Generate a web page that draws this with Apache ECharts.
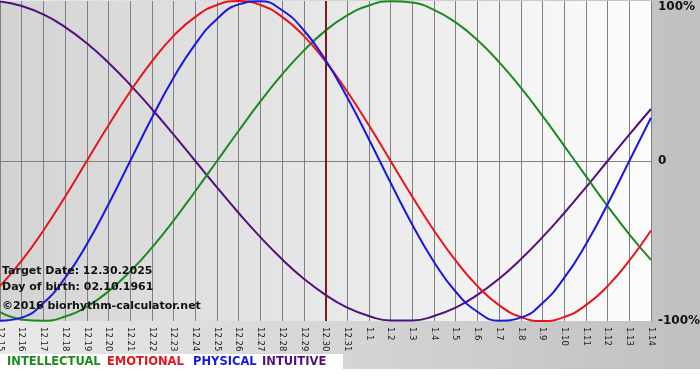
<!DOCTYPE html>
<html>
<head>
<meta charset="utf-8">
<script src="https://cdn.jsdelivr.net/npm/echarts@6/dist/echarts.min.js"></script>
<style>
html,body{margin:0;padding:0;background:#fff;}
#c{width:700px;height:380px;}
</style>
</head>
<body>
<div id="c"></div>
<script>
const dates = ['12.15','12.16','12.17','12.18','12.19','12.20','12.21','12.22','12.23','12.24','12.25','12.26','12.27','12.28','12.29','12.30','12.31','1.1','1.2','1.3','1.4','1.5','1.6','1.7','1.8','1.9','1.10','1.11','1.12','1.13','1.14'];
const intellectual = [-94.5,-99.0,-99.9,-97.2,-91.0,-81.5,-69.0,-54.1,-37.2,-18.9,0,18.9,37.2,54.1,69.0,81.5,91.0,97.2,99.9,99.0,94.5,86.6,75.6,61.8,45.8,28.2,9.5,-9.5,-28.2,-45.8,-61.8];
const emotional = [-78.2,-62.3,-43.4,-22.3,0,22.3,43.4,62.3,78.2,90.1,97.5,100,97.5,90.1,78.2,62.3,43.4,22.3,0,-22.3,-43.4,-62.3,-78.2,-90.1,-97.5,-100,-97.5,-90.1,-78.2,-62.3,-43.4];
const physical = [-99.8,-97.9,-88.8,-73.1,-52.0,-27.0,0,27.0,52.0,73.1,88.8,97.9,99.8,94.2,81.7,63.1,39.8,13.6,-13.6,-39.8,-63.1,-81.7,-94.2,-99.8,-97.9,-88.8,-73.1,-52.0,-27.0,0,27.0];
const intuitive = [99.7,96.9,91.6,83.7,73.6,61.4,47.6,32.5,16.5,0,-16.5,-32.5,-47.6,-61.4,-73.6,-83.7,-91.6,-96.9,-99.7,-99.7,-96.9,-91.6,-83.7,-73.6,-61.4,-47.6,-32.5,-16.5,0,16.5,32.5];
const yTicks = [-100, 0, 100];
const yTickLabels = ['-100%', '0', '100%'];
const targetDate = '12.30';
const legendNames = ['INTELLECTUAL', 'EMOTIONAL', 'PHYSICAL', 'INTUITIVE'];
const infoLines = ['Target Date: 12.30.2025', 'Day of birth: 02.10.1961', '\u00a92016 biorhythm-calculator.net'];

const FONT = '"DejaVu Sans", Verdana, sans-serif';
const colors = {
  intellectual: '#1c8a1c',
  emotional: '#e8141c',
  physical: '#1818e0',
  intuitive: '#52107e'
};

const chart = echarts.init(document.getElementById('c'), null, {renderer: 'canvas'});

function lineSeries(name, data, color, z) {
  return {
    name: name, type: 'line', data: data, smooth: true, showSymbol: false, symbol: 'none',
    lineStyle: {color: color, width: 2}, itemStyle: {color: color}, z: z, animation: false
  };
}

const legendX = [7, 107, 193, 262];
const legendColors = [colors.intellectual, colors.emotional, colors.physical, colors.intuitive];

const graphics = [
  {type: 'rect', z: -10, silent: true, shape: {x: 0, y: 0, width: 700, height: 369},
   style: {fill: new echarts.graphic.LinearGradient(0, 0, 1, 0, [{offset: 0, color: '#e9e9e9'}, {offset: 1, color: '#c0c0c0'}])}},
  {type: 'rect', z: -9, silent: true, shape: {x: 0, y: 354, width: 343, height: 26}, style: {fill: '#ffffff'}}
];
legendNames.forEach(function (n, i) {
  graphics.push({type: 'text', x: legendX[i], y: 362, z: 50,
    style: {text: n, fill: legendColors[i], font: 'bold 11.5px ' + FONT, textVerticalAlign: 'middle', verticalAlign: 'middle'}});
});
const infoY = [271, 287, 306];
infoLines.forEach(function (t, i) {
  graphics.push({type: 'text', x: 2, y: infoY[i], z: 50,
    style: {text: t, fill: '#111111', font: 'bold 11px ' + FONT, textVerticalAlign: 'middle', verticalAlign: 'middle'}});
});

const option = {
  animation: false,
  backgroundColor: '#ffffff',
  grid: {
    left: 0, right: 49, top: 1, bottom: 59, show: true, borderWidth: 0, z: 0,
    containLabel: false, outerBoundsMode: 'none',
    backgroundColor: new echarts.graphic.LinearGradient(0, 0, 1, 0, [{offset: 0, color: '#d3d3d3'}, {offset: 1, color: '#fcfcfc'}])
  },
  xAxis: {
    type: 'category', data: dates, boundaryGap: false,
    axisLine: {show: false},
    axisTick: {show: true, length: 4, interval: 0, lineStyle: {color: '#808080'}},
    splitLine: {show: true, interval: 0, lineStyle: {color: '#808080', width: 1}},
    axisLabel: {interval: 0, rotate: -90, margin: 6, fontSize: 8.5, fontFamily: FONT, color: '#1a1a1a', showMinLabel: true, showMaxLabel: true, hideOverlap: false}
  },
  yAxis: {
    type: 'value', position: 'right', min: -100, max: 100, interval: 100,
    axisLine: {show: false}, axisTick: {show: false},
    splitLine: {show: true, lineStyle: {color: ['transparent', '#808080', 'transparent'], width: 1}},
    axisLabel: {
      margin: 7, fontSize: 12, fontWeight: 'bold', fontFamily: FONT, color: '#111111', align: 'left',
      showMinLabel: true, showMaxLabel: true,
      formatter: function (v) {
        const idx = yTicks.indexOf(v);
        const s = idx >= 0 ? yTickLabels[idx] : '';
        return v === yTicks[yTicks.length - 1] ? '{t|' + s + '}' : s;
      },
      rich: {t: {fontSize: 12, fontWeight: 'bold', fontFamily: FONT, color: '#111111', padding: [12, 0, 0, 0]}}
    }
  },
  series: [
    {
      name: 'target', type: 'line', data: [], z: 1, silent: true, animation: false,
      markLine: {
        silent: true, symbol: ['none', 'none'], label: {show: false}, animation: false,
        lineStyle: {color: '#7a1c1c', width: 2, type: 'solid'},
        data: [{xAxis: targetDate}]
      }
    },
    lineSeries('Intuitive', intuitive, colors.intuitive, 2),
    lineSeries('Intellectual', intellectual, colors.intellectual, 3),
    lineSeries('Emotional', emotional, colors.emotional, 4),
    lineSeries('Physical', physical, colors.physical, 5)
  ],
  graphic: graphics
};
chart.setOption(option);
</script>
</body>
</html>
